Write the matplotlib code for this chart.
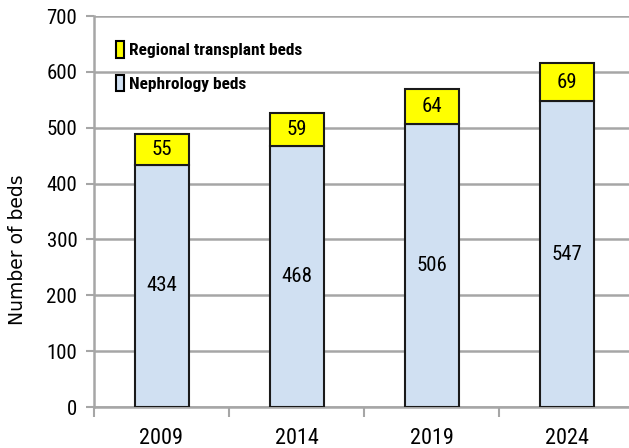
import matplotlib as mpl
import matplotlib.pyplot as plt
import numpy as np
from matplotlib import font_manager
from matplotlib.patches import Patch

# Pick a narrow face if one is installed (the original looks like Calibri)
installed = {f.name for f in font_manager.fontManager.ttflist}
condensed = sorted({f.name for f in font_manager.fontManager.ttflist
                    if f.stretch in ("condensed", "semi-condensed")})
main_font = "Lato"
for cand in ["Liberation Sans Narrow", "Roboto Condensed", "Open Sans Condensed",
             "Noto Sans Condensed"] + condensed:
    if cand in installed:
        main_font = cand
        break
mpl.rcParams["font.family"] = [main_font, "DejaVu Sans"]

# ==============================================================================
# Data
# ==============================================================================
years = ["2009", "2014", "2019", "2024"]
nephrology_beds = [434, 468, 506, 547]
transplant_beds = [55, 59, 64, 69]
y_ticks = [0, 100, 200, 300, 400, 500, 600, 700]

blue = "#D0E0F2"
yellow = "#FFFF00"
grid_gray = "#A6A6A6"

fig = plt.figure(figsize=(6.29, 4.48), dpi=100)
# axes runs slightly past the right edge, as in the reference
ax = fig.add_axes([94 / 629, 1 - 407 / 448, 540 / 629, 391 / 448])

x = np.arange(len(years))
ax.bar(x, nephrology_beds, width=0.4, color=blue, edgecolor="#1a1a1a",
       linewidth=1.5, zorder=3)
ax.bar(x, transplant_beds, bottom=nephrology_beds, width=0.4, color=yellow,
       edgecolor="#1a1a1a", linewidth=1.5, zorder=3)

# Value labels
for xi, n, t in zip(x, nephrology_beds, transplant_beds):
    ax.text(xi, n / 2, str(n), ha="center", va="center", fontsize=15,
            zorder=4)
    ax.text(xi, n + t / 2, str(t), ha="center", va="center", fontsize=15,
            zorder=4)

ax.set_xlim(-0.5, len(years) - 0.5)
ax.set_ylim(0, 700)
ax.set_yticks(y_ticks)
ax.set_yticklabels([str(v) for v in y_ticks], fontsize=15)
ax.yaxis.grid(True, color=grid_gray, linewidth=1.8, zorder=0)
ax.set_axisbelow(True)

# Category labels centred, tick marks between categories (Excel style)
ax.set_xticks(x)
ax.set_xticklabels(years, fontsize=16)
ax.tick_params(axis="x", length=0, pad=15)
ax.set_xticks(np.arange(len(years) + 1) - 0.5, minor=True)
ax.tick_params(axis="x", which="minor", length=7, width=1.5, color=grid_gray)
ax.tick_params(axis="y", length=6, width=1.5, color=grid_gray, pad=6)

for side in ["top", "right"]:
    ax.spines[side].set_visible(False)
for side in ["left", "bottom"]:
    ax.spines[side].set_color(grid_gray)
    ax.spines[side].set_linewidth(1.8)

fig.text(18 / 629, 1 - 250 / 448, "Number of beds", rotation=90, ha="center",
         va="center", fontsize=13.5, family="DejaVu Sans")

handles = [
    Patch(facecolor=yellow, edgecolor="black", linewidth=1.5,
          label="Regional transplant beds"),
    Patch(facecolor=blue, edgecolor="black", linewidth=1.5,
          label="Nephrology beds"),
]
leg = ax.legend(handles=handles, loc="upper left", bbox_to_anchor=(0.024, 0.957),
                frameon=False, handlelength=0.5, handleheight=1.05,
                handletextpad=0.25, labelspacing=0.95, borderpad=0,
                prop={"weight": "bold", "size": 12.5})

fig.savefig("out.png", dpi=100)
